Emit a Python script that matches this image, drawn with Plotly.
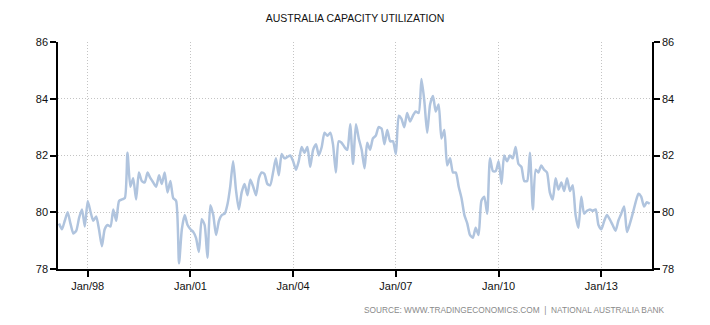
import pandas as pd
import plotly.graph_objects as go

TITLE = "AUSTRALIA CAPACITY UTILIZATION"
SOURCE = "SOURCE: WWW.TRADINGECONOMICS.COM  |  NATIONAL AUSTRALIA BANK"
START_MONTH = "1997-03-01"

# Monthly capacity utilization (%), Mar 1997 - Jun 2014
capacity = [
    79.6, 79.4, 79.7, 80.0, 79.6, 79.25, 79.35, 79.8, 80.1, 79.5,
    80.4, 80.0, 79.7, 79.85, 79.4, 78.8, 79.4, 79.55, 79.5, 80.1,
    79.7, 80.4, 80.45, 80.5, 82.1, 80.9, 81.2, 80.45, 81.4, 81.1,
    81.05, 81.4, 81.2, 81.05, 80.9, 81.3, 81.0, 81.4, 80.7, 81.1,
    80.5, 80.4, 78.2, 79.4, 79.9, 79.55, 79.4, 79.3, 79.1, 78.6,
    79.75, 79.55, 78.4, 80.25, 79.9, 79.2, 79.7, 79.9, 79.95, 80.3,
    80.9, 81.8, 80.8, 80.1, 80.7, 81.0, 80.6, 81.15, 80.9, 80.6,
    81.2, 81.4, 81.35, 81.0, 80.95, 81.4, 81.9, 81.3, 82.05, 81.9,
    81.95, 82.0, 81.8, 81.5, 81.8, 82.3, 82.1, 82.3, 81.6, 82.2,
    82.4, 82.0, 82.3, 82.8, 82.7, 82.8, 82.4, 81.4, 82.5, 82.45,
    82.3, 82.2, 83.1, 81.7, 83.1, 82.6, 82.2, 81.55, 82.45, 82.2,
    82.6, 82.7, 83.0, 82.95, 82.4, 82.9, 82.5, 82.5, 82.05, 83.4,
    83.3, 83.0, 83.5, 83.2, 83.4, 83.55, 83.5, 84.7, 83.9, 82.8,
    83.8, 84.1, 83.55, 83.8, 82.6, 82.9, 81.65, 81.9, 81.4, 81.4,
    80.9, 80.5, 79.9, 79.6, 79.2, 79.1, 79.45, 79.2, 80.4, 80.55,
    79.95, 81.9, 81.45, 81.45, 81.8, 81.0, 82.0, 81.8, 82.0, 81.9,
    82.3, 81.7, 81.6, 81.1, 81.1, 82.1, 80.1, 81.5, 81.4, 81.65,
    81.5, 81.4, 80.7, 80.45, 81.2, 80.8, 81.05, 80.75, 81.2, 80.75,
    80.95, 79.9, 79.45, 80.55, 79.95, 80.05, 80.1, 80.05, 80.1, 79.55,
    79.4, 79.7, 79.9, 79.75, 79.55, 79.35, 79.7, 79.95, 80.2, 79.3,
    79.6, 79.95, 80.35, 80.65, 80.55, 80.2, 80.35, 80.3,
]
dates = pd.date_range(START_MONTH, periods=len(capacity), freq="MS")

y_ticks = [78, 80, 82, 84, 86]
x_range = ["1997-02-18", "2014-06-25"]

FONT = "Liberation Sans"
LINE_COLOR = "#b0c4de"
GRID_COLOR = "#c4c4c4"
GRID_DASH = "1px,2px"

fig = go.Figure()
fig.add_trace(go.Scatter(
    x=dates, y=capacity, mode="lines",
    line=dict(color=LINE_COLOR, width=2.5, shape="spline", smoothing=0.6),
    hoverinfo="x+y", showlegend=False,
))
fig.add_trace(go.Scatter(
    x=dates, y=capacity, mode="lines", yaxis="y2",
    line=dict(color="rgba(0,0,0,0)", width=0),
    hoverinfo="skip", showlegend=False,
))

axis_common = dict(
    showline=True, linecolor="black", linewidth=1.5,
    ticks="outside", ticklen=6, tickcolor="black", tickwidth=1.5,
    tickfont=dict(family=FONT, size=11, color="#111111"),
    zeroline=False,
)

fig.update_layout(
    width=710, height=325,
    margin=dict(l=58, r=58, t=42, b=56),
    paper_bgcolor="white", plot_bgcolor="white",
    title=dict(text=TITLE, x=0.5, xref="paper", y=1 - 18 / 325, yref="container",
               yanchor="middle", xanchor="center",
               font=dict(family=FONT, size=10.5, color="#111111")),
    xaxis=dict(
        type="date", range=x_range, tick0="1998-01-01", dtick="M36",
        tickformat="%b/%y", showgrid=True, gridcolor=GRID_COLOR,
        griddash=GRID_DASH, gridwidth=1, **axis_common,
    ),
    yaxis=dict(
        range=[78, 86], tickvals=y_ticks, showgrid=True,
        gridcolor=GRID_COLOR, griddash=GRID_DASH, gridwidth=1, **axis_common,
    ),
    yaxis2=dict(
        range=[78, 86], tickvals=y_ticks, overlaying="y", side="right",
        showgrid=False, **axis_common,
    ),
    annotations=[dict(
        text=SOURCE, xref="paper", yref="paper",
        x=(666 - 58) / 594, y=-(310 - 269) / 227,
        xanchor="right", yanchor="middle", showarrow=False,
        font=dict(family=FONT, size=8.3, color="#8a8a8a"),
    )],
)

fig.write_html("out.html")
